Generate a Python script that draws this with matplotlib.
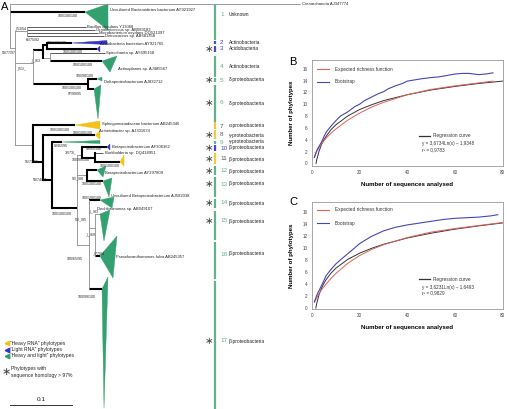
import matplotlib
matplotlib.use('Agg')
import matplotlib.pyplot as plt
from matplotlib.patches import Polygon

plt.rcParams['font.family'] = ['Liberation Sans', 'DejaVu Sans']

# ---------------- rarefaction data (panels B and C) ----------------
b_reg_x = [1.7, 2, 3, 4, 5, 6, 8, 10, 15, 20, 25, 30, 40, 50, 60, 70, 80]
b_reg_y = [0.0, 0.6, 2.1, 3.2, 4.0, 4.6, 5.7, 6.5, 8.0, 9.1, 9.9, 10.6, 11.6, 12.4, 13.0, 13.5, 13.9]
b_exp_x = [1, 2, 3, 4, 5, 6, 8, 10, 15, 20, 25, 30, 40, 50, 60, 70, 76]
b_exp_y = [1.0, 2.0, 2.7, 3.3, 3.8, 4.3, 5.1, 5.8, 7.3, 8.5, 9.5, 10.3, 11.6, 12.5, 13.1, 13.6, 13.9]
b_boot_x = [1, 2, 3, 4, 5, 6, 8, 10, 12, 15, 18, 20, 22, 25, 28, 30, 32, 35, 38, 40,
            43, 46, 50, 53, 56, 60, 63, 66, 70, 73, 76]
b_boot_y = [1.0, 2.2, 2.9, 3.6, 4.5, 5.3, 6.3, 7.2, 8.0, 8.7, 9.6, 10.0, 10.6, 11.2, 11.8, 12.1,
            12.6, 13.1, 13.5, 13.9, 14.1, 14.3, 14.5, 14.6, 14.8, 15.1, 15.2, 15.2, 15.0, 15.1, 15.3]

c_reg_x = [1.6, 2, 3, 4, 5, 6, 8, 10, 15, 20, 25, 30, 40, 50, 60, 70, 80]
c_reg_y = [0.05, 0.86, 2.33, 3.37, 4.18, 4.84, 5.88, 6.69, 8.16, 9.2, 10.0, 10.67, 11.72, 12.52, 13.19, 13.74, 14.23]
c_exp_x = [1, 2, 3, 4, 5, 6, 8, 10, 15, 20, 25, 30, 40, 50, 60, 70, 80]
c_exp_y = [1.0, 1.8, 2.5, 3.1, 3.6, 4.1, 5.0, 5.8, 7.5, 8.8, 9.8, 10.6, 11.8, 12.7, 13.3, 13.8, 14.3]
c_boot_x = [1, 2, 3, 4, 6, 8, 10, 12, 15, 18, 20, 25, 30, 35, 40, 45, 50, 55, 60, 65, 70, 75, 78]
c_boot_y = [1.1, 2.2, 3.0, 3.8, 5.5, 6.5, 7.4, 8.1, 9.1, 10.1, 10.8, 12.0, 12.9, 13.5, 13.9,
            14.2, 14.5, 14.8, 15.0, 15.1, 15.2, 15.4, 15.6]

b_eq = ["y = 3,6734Ln(x) \u2013 1,9348", "r\u00b2 = 0,9783"]
c_eq = ["y = 3,6231Ln(x) \u2013 1,6493", "r\u00b2 = 0,9829"]

# ---------------- tree (panel A), pixel layout ----------------
tree_name = ["R", "out", "bact", "A", "B", "C", "P", "bac1", "bac2", "bac3", "bac4",
             "G", "E", "D", "H", "blu2", "aci3", "spi", "act4", "d5", "d6",
             "alpha", "Q", "aci8", "Rn", "g9", "beta", "S1", "S2", "Low",
             "b10", "N11", "burk", "y11", "b12", "b13", "b14", "M", "b17", "b15", "b16"]
tree_parent = [None, "R", "R", "R", "A", "A", "A", "B", "B", "B", "B",
               "C", "C", "G", "G", "D", "D", "H", "H", "E", "E",
               "P", "P", "Q", "Q", "Rn", "Rn", "beta", "beta", "beta",
               "S1", "S1", "N11", "N11", "S2", "S2", "Low", "Low", "Low", "M", "M"]
tree_x = [10, 300, 85, 15, 27, 33, 33, 86, 95, 98, 104,
          43, 88, 47, 50, 72, 97, 105, 102, 97, 94,
          75, 43, 95, 52, 62, 77, 82, 87, 89,
          107, 95, 103, 120, 97, 103, 100, 95, 102, 100, 100]
tree_y = [48, 4, 12, 48, 31, 63, 145, 27, 30, 33, 36,
          50, 84, 45, 58, 43, 49, 53, 61, 79, 89,
          125, 162, 135, 180, 142, 208, 155, 175, 245,
          147, 158, 153, 162, 170, 181, 200, 228, 289, 214, 256]
# k = thick black, g = thin grey, l = thin black
tree_hstyle = ["g", "g", "k", "g", "g", "g", "g", "l", "l", "l", "l",
               "k", "k", "k", "g", "k", "k", "l", "k", "k", "k",
               "k", "k", "k", "k", "k", "k", "g", "g", "g",
               "k", "k", "l", "k", "k", "k", "k", "g", "k", "g", "k"]
tree_vstyle = {"R": "g", "A": "g", "B": "g", "C": "g", "G": "k", "E": "k", "D": "k",
               "H": "g", "P": "k", "Q": "k", "Rn": "k", "beta": "g", "S1": "k",
               "N11": "k", "S2": "k", "Low": "g", "M": "g"}

# collapsed clades: node, right-top point, right-bottom point, colour group
tri_node = ["bact", "blu2", "aci3", "act4", "d5", "d6", "alpha", "aci8", "g9",
            "b10", "y11", "b12", "b13", "b14", "b15", "b16", "b17"]
tri_p1 = [(108, 4), (107, 40.5), (100, 46), (117, 56), (102, 77), (101, 85), (100, 121),
          (100, 131), (100, 140.5), (110, 144), (124, 155), (106, 166), (112, 178),
          (114, 197), (110, 210), (117, 236), (108, 277)]
tri_p2 = [(108, 30), (107, 44.5), (100, 52), (110, 72), (102, 81), (98, 119), (100, 129),
          (100, 139), (100, 143.5), (110, 150), (124, 166), (103, 177), (109, 197),
          (112, 208), (104, 241), (113, 278), (104, 408)]
tri_grp = ["g", "b", "b", "g", "g", "g", "y", "y", "g", "b", "y", "g", "g", "g", "g", "g", "g"]

leaf_label = ["Crenarchaeota AJ347774", "Uncultured Bacteroidetes bacterium AY921927",
              "Bacillus circulans Y13068", "Ornithinicoccus sp. AB083183",
              "Microbacterium oxydans DQ521397", "Deinococcus sp. AB681358",
              "Acidobacteria bacterium AY921765", "Spirochaeta sp. AY695158",
              "Actinoplanes sp. AJ485567", "Deltaproteobacterium AJ832712",
              "Sphingomonadaceae bacterium AB245346", "Acinetobacter sp. AJ301674",
              "Betaproteobacterium AF306362", "Burkholderia sp. DQ418951",
              "Betaproteobacterium AY297809", "Uncultured Betaproteobacterium AJ582038",
              "Dechloromonas sp. AB049107", "Pseudoxanthomonas fulva AB245357"]
leaf_lx = [302, 110, 87, 96, 99, 105, 100, 106, 118, 104, 102, 99, 112, 105, 105, 111, 97, 116]
leaf_ly = [4, 10, 27, 30, 33, 36, 44, 53, 69, 82, 124, 131, 147, 153, 173, 196, 209, 257]

boot_text = ["100/100/100", "_/53/54", "66/75/92", "58/77/97", "100/100/100", "100/100/100",
             "_/_/63", "_/51/_", "100/100/100", "100/98/100", "100/100/100", "97/99/95",
             "100/100/100", "100/100/100", "95/73/91", "92/82/95", "58/74/97", "32/73/_",
             "98/95/100", "100/99/100", "100/100/100", "92/_/88", "100/100/100",
             "100/100/100", "_/_/83", "55/_/85", "_/_/69", "_/77/84", "100/65/95",
             "100/99/100", "100/100/100"]
boot_x = [58, 14, 26, 2, 47, 63, 30, 16, 73, 76, 62, 68, 50, 73, 25, 54, 33, 65,
          86, 72, 100, 72, 82, 82, 88, 75, 85, 92, 67, 78, 52]
boot_y = [16, 28, 40, 53, 43, 52, 60, 68, 65, 76, 88, 94, 130, 133, 162, 146, 180, 152,
          149, 160, 166, 178, 184, 198, 211, 219, 234, 253, 259, 297, 214]

# cluster column
cl_num = list(range(1, 18))
cl_name = ["Unknown", "Actinobacteria", "Acidobacteria", "Actinobacteria",
           "\u03b4-proteobacteria", "\u03b4-proteobacteria", "\u03b1-proteobacteria",
           "\u03b3-proteobacteria", "\u03b3-proteobacteria"] + ["\u03b2-proteobacteria"] * 8
cl_top = [5, 40.5, 46, 56, 78, 85, 122, 130, 141, 145, 153, 166, 177, 199, 211, 242, 281]
cl_bot = [40, 43.5, 52, 77, 82, 122, 129, 139, 143.5, 151, 164, 175, 197, 208, 240, 279, 409]
cl_ly = [15, 42, 49, 66, 80, 103, 126, 135, 142, 148, 159, 171, 184, 203, 221, 254, 341]
cl_grp = ["g", "b", "b", "g", "g", "g", "y", "y", "g", "b", "y", "g", "g", "g", "g", "g", "g"]
cl_star = [0, 0, 1, 0, 1, 1, 0, 1, 0, 1, 1, 1, 1, 1, 1, 0, 1]

legend_text = ["\u201cHeavy RNA\u201d phylotypes", "\u201cLight RNA\u201d phylotypes",
               "\u201cHeavy and light\u201d phylotypes"]
legend_grp = ["y", "b", "g"]

tri_col = {"g": "#33a06f", "b": "#3434c8", "y": "#f2c21b"}
bar_col = {"g": "#62b08e", "b": "#4848cc", "y": "#f2c840"}
num_col = {"g": "#62b08e", "b": "#4848cc", "y": "#555555"}
line_sty = {"k": ("black", 1.5), "g": ("#8a8a8a", 0.6), "l": ("black", 0.45)}

fig = plt.figure(figsize=(5.07, 4.09), dpi=100)

# ---------------- panels B and C ----------------
def rare_panel(axp, rx, ry, ex, ey, bx, by, ylim):
    axp.plot(rx, ry, color='#333333', lw=0.7)
    axp.plot(ex, ey, color='#e0605a', lw=0.7)
    axp.plot(bx, by, color='#4646b8', lw=0.8)
    axp.set_xlim(0, 80)
    axp.set_ylim(*ylim)
    axp.set_xticks([0, 20, 40, 60, 80])
    axp.set_yticks(range(0, 17, 2))
    axp.tick_params(length=0, pad=3, labelsize=3.3, colors='#444444')
    for s in axp.spines.values():
        s.set_color('#999999')
        s.set_linewidth(0.6)
    axp.set_xlabel("Number of sequences analysed", fontsize=4.4, fontweight='bold', labelpad=5)
    axp.set_ylabel("Number of phylotypes", fontsize=4.4, fontweight='bold', labelpad=6)

axB = fig.add_axes([312 / 507, 1 - 166 / 409, 190.5 / 507, 106 / 409])
rare_panel(axB, b_reg_x, b_reg_y, b_exp_x, b_exp_y, b_boot_x, b_boot_y, (-0.45, 17.47))
axC = fig.add_axes([312 / 507, 1 - 309 / 409, 190.5 / 507, 107.5 / 409])
rare_panel(axC, c_reg_x, c_reg_y, c_exp_x, c_exp_y, c_boot_x, c_boot_y, (-0.1, 17.8))

# overlay in pixel coordinates
ax = fig.add_axes([0, 0, 1, 1], zorder=5)
ax.patch.set_alpha(0)
ax.set_xlim(0, 507)
ax.set_ylim(409, 0)
ax.axis('off')

for y0, eq in [(69, b_eq), (210, c_eq)]:
    ax.plot([317, 329], [y0, y0], color='#e0605a', lw=0.8)
    ax.text(335, y0, "Expected richness function", fontsize=3.4, va='center', color='#333333')
    ax.plot([317, 329], [y0 + 13, y0 + 13], color='#4646b8', lw=0.8)
    ax.text(335, y0 + 13, "Bootstrap", fontsize=3.4, va='center', color='#333333')
    yr = y0 + 67 if y0 == 69 else y0 + 69
    ax.plot([419, 430], [yr, yr], color='#333333', lw=0.9)
    ax.text(433, yr, "Regression curve", fontsize=3.4, va='center', color='#333333')
    ax.text(422, yr + 8, eq[0], fontsize=3.3, va='center', color='#333333')
    ax.text(422, yr + 13.5, eq[1], fontsize=3.3, va='center', color='#333333')

ax.text(289, 62, "B", fontsize=8, va='center', ha='left')
ax.text(289, 202, "C", fontsize=8, va='center', ha='left')
ax.text(1, 7, "A", fontsize=8, va='center', ha='left')

# tree branches
idx = {n: i for i, n in enumerate(tree_name)}
for i, n in enumerate(tree_name):
    p = tree_parent[i]
    if p is None:
        continue
    c, w = line_sty[tree_hstyle[i]]
    ax.plot([tree_x[idx[p]], tree_x[i]], [tree_y[i], tree_y[i]], color=c, lw=w,
            solid_capstyle='butt')
for n, st in tree_vstyle.items():
    ys = [tree_y[i] for i, p in enumerate(tree_parent) if p == n]
    c, w = line_sty[st]
    x = tree_x[idx[n]]
    ax.plot([x, x], [min(ys), max(ys)], color=c, lw=w, solid_capstyle='projecting')

for n, p1, p2, g in zip(tri_node, tri_p1, tri_p2, tri_grp):
    i = idx[n]
    ax.add_patch(Polygon([(tree_x[i], tree_y[i]), p1, p2], closed=True,
                         facecolor=tri_col[g], edgecolor=tri_col[g], lw=0.3))

for t, x, y in zip(leaf_label, leaf_lx, leaf_ly):
    ax.text(x, y, t, fontsize=3.0, va='center', ha='left', color='#222222')
for t, x, y in zip(boot_text, boot_x, boot_y):
    ax.text(x, y, t, fontsize=2.6, va='center', ha='left', color='#222222')

# cluster column
for num, name, t, b, ly, g, s in zip(cl_num, cl_name, cl_top, cl_bot, cl_ly, cl_grp, cl_star):
    ax.plot([215, 215], [t, b], color=bar_col[g], lw=1.6, solid_capstyle='butt')
    ax.text(220, ly, str(num), fontsize=4.6, va='center', ha='left', color=num_col[g])
    ax.text(229, ly, name, fontsize=3.5, va='center', ha='left', color='#222222')
    if s:
        ax.text(209, ly, "\u2217", fontsize=7.5, va='center', ha='center', color='#444444',
                family=['DejaVu Sans'])

# legend of panel A
for k, (t, g) in enumerate(zip(legend_text, legend_grp)):
    yy = 343 + 6.5 * k
    ax.plot([7], [yy], marker='<', ms=3.2, color=tri_col[g], mec=tri_col[g])
    ax.text(10, yy, t, fontsize=3.6, va='center', ha='left', color='#222222')
ax.text(6, 372, "\u2217", fontsize=8, va='center', ha='center', color='#444444',
        family=['DejaVu Sans'])
ax.text(11, 368.5, "Phylotypes with", fontsize=3.6, va='center', ha='left', color='#222222')
ax.text(11, 375, "sequence homology > 97%", fontsize=3.6, va='center', ha='left', color='#222222')

# scale bar
ax.plot([10, 72], [405, 405], color='#333333', lw=0.7)
ax.text(41, 402, "0.1", fontsize=4.6, ha='center', va='bottom', color='#222222')

fig.savefig("out.png", dpi=100)
